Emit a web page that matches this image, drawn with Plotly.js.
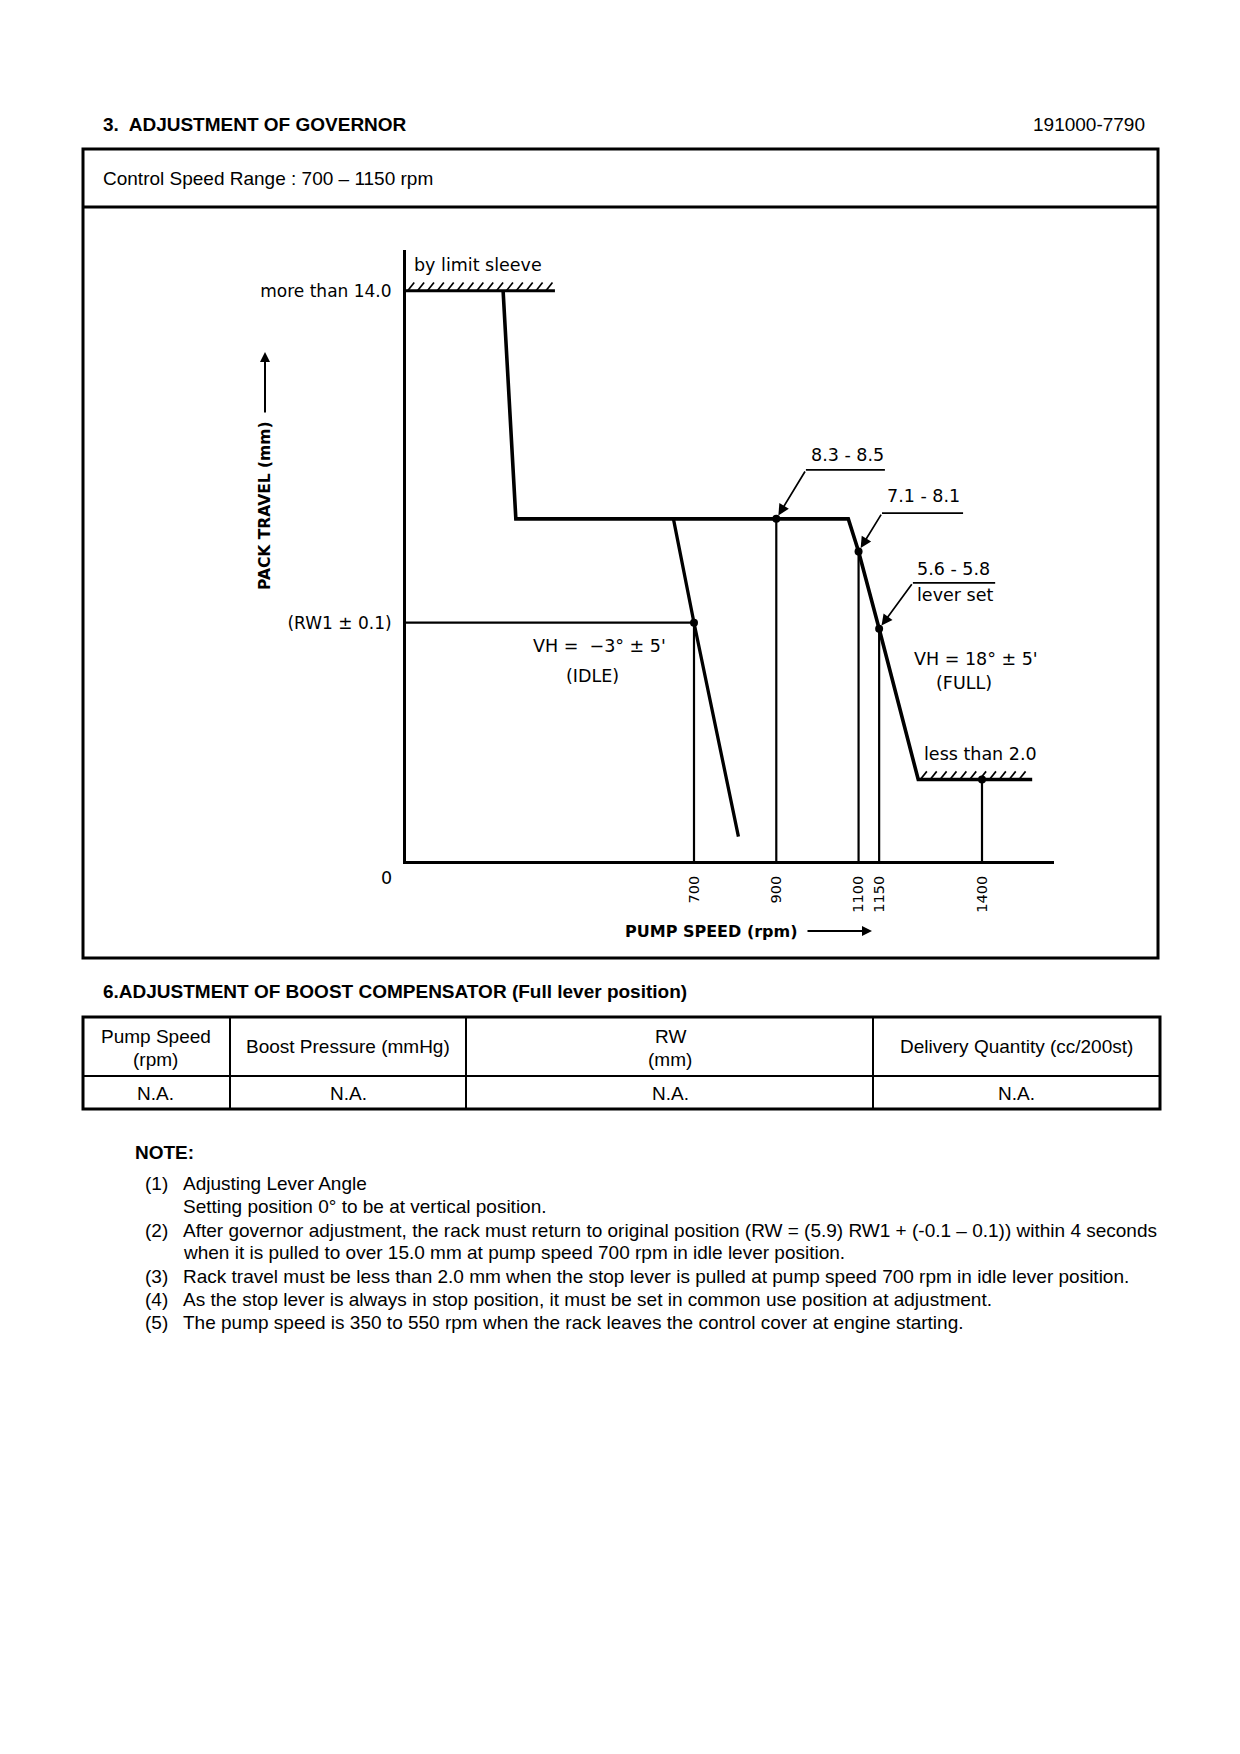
<!DOCTYPE html>
<html><head><meta charset="utf-8">
<script src="https://cdn.plot.ly/plotly-3.0.1.min.js"></script>
<style>html,body{margin:0;padding:0;background:#fff;} #chart{width:1240px;height:1754px;}</style>
</head><body><div id="chart"></div>
<script>
// ---------------- data ----------------
const tickRpm = [700, 900, 1100, 1150, 1400];
const tickLabels = ['700', '900', '1100', '1150', '1400'];
const rackTickVals = [14.0, 5.85];
const rackTickLabels = ['more than 14.0', '(RW1 \u00b1 0.1)'];
const limitRpm = [0, 362];
const limitRack = [14.0, 14.0];
const governorRpm = [236, 267, 1075, 1100, 1150, 1245, 1522];
const governorRack = [14.0, 8.4, 8.4, 7.6, 5.7, 2.0, 2.0];
const idleRpm = [650, 700, 808];
const idleRack = [8.4, 5.85, 0.6];
const checkRpm = [700, 900, 1100, 1150, 1400];
const checkRack = [5.85, 8.4, 7.6, 5.7, 2.0];
const rw1Rpm = [0, 700];
const rw1Rack = [5.85, 5.85];
const hatchUpperRpm = [4, 362];
const hatchLowerRpm = [1250, 1522];
const tableHeaders = [['Pump Speed', '(rpm)'], ['Boost Pressure (mmHg)'], ['RW', '(mm)'], ['Delivery Quantity (cc/200st)']];
const tableValues = ['N.A.', 'N.A.', 'N.A.', 'N.A.'];
const noteNums = ['(1)', '', '(2)', '', '(3)', '(4)', '(5)'];
const noteLines = [
  'Adjusting Lever Angle',
  'Setting position 0\u00b0 to be at vertical position.',
  'After governor adjustment, the rack must return to original position (RW = (5.9) RW1 + (-0.1 \u2013 0.1)) within 4 seconds',
  'when it is pulled to over 15.0 mm at pump speed 700 rpm in idle lever position.',
  'Rack travel must be less than 2.0 mm when the stop lever is pulled at pump speed 700 rpm in idle lever position.',
  'As the stop lever is always in stop position, it must be set in common use position at adjustment.',
  'The pump speed is 350 to 550 rpm when the rack leaves the control cover at engine starting.'
];

// ---------------- layout helpers ----------------
const W = 1240, H = 1754;
const X = px => px / W;
const Y = py => 1 - py / H;
const PAGE = 'Liberation Sans, Arial, sans-serif';
const DIA = 'DejaVu Sans, sans-serif';
const PS = 19;

const traces = [];
// vertical check lines
const vx = [], vy = [];
checkRpm.forEach((r, i) => { vx.push(r, r, null); vy.push(0, checkRack[i], null); });
traces.push({x: vx, y: vy, mode: 'lines', line: {color: '#000', width: 2.2}, hoverinfo: 'skip'});
// RW1 line
traces.push({x: rw1Rpm, y: rw1Rack, mode: 'lines', line: {color: '#000', width: 2.2}});
// limit sleeve line
traces.push({x: limitRpm, y: limitRack, mode: 'lines', line: {color: '#000', width: 3}});
// hatches
function hatch(range, y0) {
  const hx = [], hy = [];
  for (let r = range[0]; r + 14 <= range[1]; r += 24) { hx.push(r, r + 16, null); hy.push(y0, y0 + 0.2, null); }
  return {x: hx, y: hy, mode: 'lines', line: {color: '#000', width: 1.7}};
}
traces.push(hatch(hatchUpperRpm, limitRack[0]));
traces.push(hatch(hatchLowerRpm, governorRack[governorRack.length - 1]));
// governor full-lever curve
traces.push({x: governorRpm, y: governorRack, mode: 'lines', line: {color: '#000', width: 3.6}});
// idle curve
traces.push({x: idleRpm, y: idleRack, mode: 'lines', line: {color: '#000', width: 3.3}});
// check points
traces.push({x: checkRpm, y: checkRack, mode: 'markers', marker: {color: '#000', size: 8}});

const shapes = [];
const line = (x0, y0, x1, y1, w) => shapes.push({type: 'line', xref: 'paper', yref: 'paper', x0: X(x0), y0: Y(y0), x1: X(x1), y1: Y(y1), line: {color: '#000', width: w}});
// governor box
shapes.push({type: 'rect', xref: 'paper', yref: 'paper', x0: X(83), y0: Y(149), x1: X(1158), y1: Y(958), line: {color: '#000', width: 3}});
line(83, 207, 1158, 207, 3);
// table
shapes.push({type: 'rect', xref: 'paper', yref: 'paper', x0: X(83), y0: Y(1017), x1: X(1160), y1: Y(1109), line: {color: '#000', width: 3}});
line(83, 1076, 1160, 1076, 2);
[230, 466, 873].forEach(c => line(c, 1017, c, 1109, 2));
// leader underlines (data coords)
const under = (a, b, y) => shapes.push({type: 'line', xref: 'x', yref: 'y', x0: a, x1: b, y0: y, y1: y, line: {color: '#000', width: 1.7}});
under(972, 1164, 9.6);
under(1157, 1354, 8.54);
under(1232, 1432, 6.83);

const ann = [];
const txt = (t, px, py, opt = {}) => ann.push(Object.assign({
  text: t, x: X(px), y: Y(py), xref: 'paper', yref: 'paper', showarrow: false,
  xanchor: 'left', yanchor: 'middle', font: {family: PAGE, size: PS, color: '#000'}
}, opt));
// page headings
txt('<b>3.\u00a0 ADJUSTMENT OF GOVERNOR</b>', 101, 125);
txt('191000-7790', 1147, 125, {xanchor: 'right'});
txt('Control Speed Range : 700 \u2013 1150 rpm', 101, 179);
txt('<b>6.ADJUSTMENT OF BOOST COMPENSATOR (Full lever position)</b>', 101, 992);
// table
const colC = [156, 348, 670, 1016];
tableHeaders.forEach((h, i) => {
  if (h.length === 2) { txt(h[0], colC[i], 1036, {xanchor: 'center'}); txt(h[1], colC[i], 1059, {xanchor: 'center'}); }
  else txt(h[0], colC[i], 1046, {xanchor: 'center'});
  txt(tableValues[i], colC[i], 1093, {xanchor: 'center'});
});
// notes
txt('<b>NOTE:</b>', 133, 1152);
const noteY = [1183, 1206, 1230, 1252, 1276, 1299, 1322];
noteLines.forEach((l, i) => {
  if (noteNums[i]) txt(noteNums[i], 143, noteY[i]);
  txt(l, 181, noteY[i]);
});

// diagram labels
const dfont = {family: DIA, size: 17.5, color: '#000'};
txt('by limit sleeve', 412, 265, {font: dfont});
txt('VH =\u00a0 \u22123\u00b0 \u00b1 5\'', 599, 646, {xanchor: 'center', font: dfont});
txt('(IDLE)', 592, 676, {xanchor: 'center', font: dfont});
txt('VH = 18\u00b0 \u00b1 5\'', 976, 659, {xanchor: 'center', font: dfont});
txt('(FULL)', 964, 683, {xanchor: 'center', font: dfont});
txt('less than 2.0', 980, 754, {xanchor: 'center', font: dfont});
txt('0', 386, 878, {xanchor: 'center', font: dfont});
txt('<b>PACK TRAVEL (mm)</b>', 265, 506, {xanchor: 'center', textangle: -90, font: {family: DIA, size: 15.5, color: '#000'}});
txt('<b>PUMP SPEED (rpm)</b>', 711, 931, {xanchor: 'center', font: {family: DIA, size: 16, color: '#000'}});
// axis-title arrows
ann.push({x: X(265), y: Y(352), xref: 'paper', yref: 'paper', ax: 0, ay: 62, text: '', showarrow: true, arrowhead: 2, arrowsize: 1, arrowwidth: 2, arrowcolor: '#000'});
ann.push({x: X(872), y: Y(931), xref: 'paper', yref: 'paper', ax: -66, ay: 0, text: '', showarrow: true, arrowhead: 2, arrowsize: 1, arrowwidth: 2, arrowcolor: '#000'});
// leader labels (data coords)
const dl = (t, x, y) => ann.push({text: t, x: x, y: y, xref: 'x', yref: 'y', showarrow: false, xanchor: 'center', yanchor: 'middle', font: dfont});
dl('8.3 - 8.5', 1072, 9.97);
dl('7.1 - 8.1', 1257, 8.96);
dl('5.6 - 5.8', 1330, 7.17);
dl('lever set', 1334, 6.53);
// leader arrows
const la = (x, y, axv, ayv) => ann.push({x: x, y: y, xref: 'x', yref: 'y', axref: 'x', ayref: 'y', ax: axv, ay: ayv, text: '', showarrow: true, arrowhead: 2, arrowsize: 1.3, arrowwidth: 1.7, standoff: 4, arrowcolor: '#000'});
la(checkRpm[1], checkRack[1], 972, 9.6);
la(checkRpm[2], checkRack[2], 1157, 8.54);
la(checkRpm[3], checkRack[3], 1232, 6.83);

const layout = {
  width: W, height: H, margin: {l: 0, r: 0, t: 0, b: 0},
  paper_bgcolor: '#fff', plot_bgcolor: '#fff', showlegend: false,
  xaxis: {domain: [X(406), X(1054)], range: [0, 1575], showline: true, linewidth: 3, linecolor: '#000',
    showgrid: false, zeroline: false, ticks: '', tickvals: tickRpm, ticktext: tickLabels, tickangle: -90,
    tickfont: {family: DIA, size: 14.5, color: '#000'}, ticklabelstandoff: 6, fixedrange: true},
  yaxis: {domain: [Y(861), Y(250)], range: [0, 15], showline: true, linewidth: 3, linecolor: '#000',
    showgrid: false, zeroline: false, ticks: '', tickvals: rackTickVals, ticktext: rackTickLabels,
    tickfont: {family: DIA, size: 17, color: '#000'}, ticklabelstandoff: 8, fixedrange: true},
  shapes: shapes, annotations: ann
};
Plotly.newPlot('chart', traces, layout, {staticPlot: true, displayModeBar: false});
</script></body></html>
